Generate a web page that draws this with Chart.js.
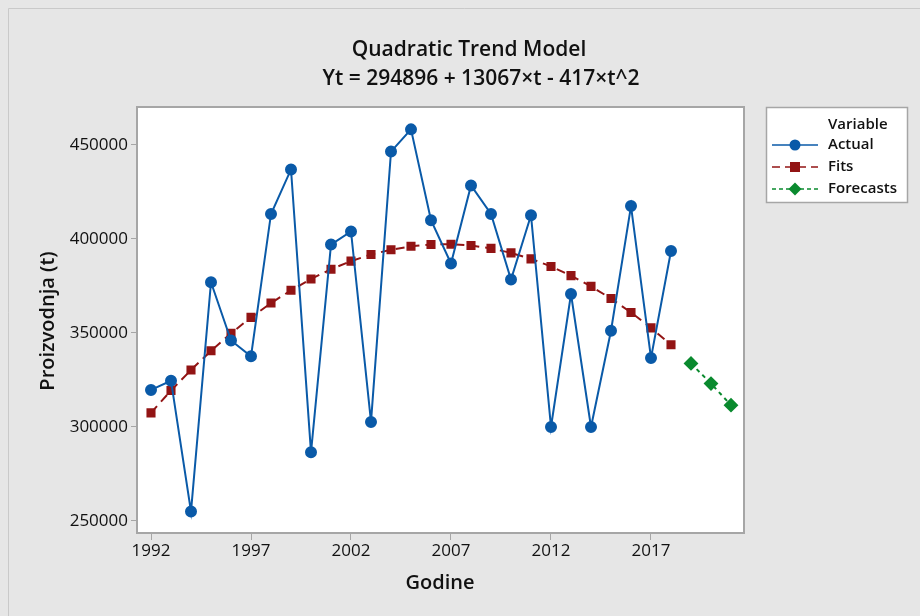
<!DOCTYPE html>
<html>
<head>
<meta charset="utf-8">
<script src="https://cdn.jsdelivr.net/npm/chart.js@4"></script>
<style>
  html, body { margin: 0; padding: 0; background: #e6e6e6; }
  #wrap { width: 920px; height: 616px; position: relative; }
</style>
</head>
<body>
<div id="wrap"><canvas id="chart" width="920" height="616"></canvas></div>
<script>
// data
const years = [1992, 1993, 1994, 1995, 1996, 1997, 1998, 1999, 2000, 2001, 2002, 2003, 2004, 2005,
  2006, 2007, 2008, 2009, 2010, 2011, 2012, 2013, 2014, 2015, 2016, 2017, 2018];
const actual = [319700, 324600, 255000, 377000, 346000, 337600, 413300, 437000, 286500, 397000,
  404000, 302700, 446500, 458300, 410000, 387000, 428500, 413300, 378400, 412600,
  300000, 370700, 300000, 351200, 417500, 336700, 393600];
const fits = [307500, 319400, 330300, 340500, 349800, 358300, 365900, 372700, 378700, 383900,
  388200, 391700, 394300, 396100, 397100, 397200, 396500, 395000, 392600, 389400,
  385400, 380500, 374800, 368300, 360900, 352700, 343700];
const forecastYears = [2019, 2020, 2021];
const forecasts = [333800, 323100, 311600];
const xTicks = [1992, 1997, 2002, 2007, 2012, 2017];
const yTicks = [250000, 300000, 350000, 400000, 450000];

const FONT = "'Open Sans', 'Noto Sans', sans-serif";
const BLUE = "#0a5aa8";
const RED = "#921414";
const GREEN = "#0a8a2e";

const toPts = (xs, ys) => xs.map((x, i) => ({ x: x, y: ys[i] }));

// titles, frame and legend
const decor = {
  id: "decor",
  beforeDraw(chart) {
    const c = chart.ctx;
    c.save();
    c.fillStyle = "#e6e6e6";
    c.fillRect(0, 0, chart.width, chart.height);
    c.strokeStyle = "#c9c9c9";
    c.lineWidth = 1;
    c.beginPath();
    c.moveTo(8.5, chart.height); c.lineTo(8.5, 8.5); c.lineTo(chart.width, 8.5);
    c.stroke();
    const a = chart.chartArea;
    c.fillStyle = "#ffffff";
    c.fillRect(a.left, a.top, a.right - a.left, a.bottom - a.top);
    c.restore();
  },
  afterDraw(chart) {
    const c = chart.ctx;
    const a = chart.chartArea;
    c.save();
    c.strokeStyle = "#a6a6a6";
    c.lineWidth = 2;
    c.strokeRect(a.left, a.top, a.right - a.left, a.bottom - a.top);

    c.fillStyle = "#111";
    c.textAlign = "center";
    c.textBaseline = "alphabetic";
    c.font = "600 21px " + FONT;
    c.fillText("Quadratic Trend Model", 469, 56);
    c.fillText("Yt = 294896 + 13067×t - 417×t^2", 481, 85);

    c.font = "600 20px " + FONT;
    c.fillText("Godine", 440, 589);
    c.save();
    c.translate(54, 321);
    c.rotate(-Math.PI / 2);
    c.fillText("Proizvodnja (t)", 0, 0);
    c.restore();

    // legend
    const lx = 766, ly = 107, lw = 141, lh = 95;
    c.fillStyle = "#fff";
    c.fillRect(lx, ly, lw, lh);
    c.strokeStyle = "#a6a6a6";
    c.lineWidth = 1.5;
    c.strokeRect(lx + 0.5, ly + 0.5, lw, lh);
    c.fillStyle = "#111";
    c.textAlign = "left";
    c.textBaseline = "middle";
    c.font = "600 15px " + FONT;
    c.fillText("Variable", 828, 125);
    const rows = [
      { label: "Actual", color: BLUE, dash: [], y: 145, shape: "circle" },
      { label: "Fits", color: RED, dash: [8, 5], y: 167, shape: "rect" },
      { label: "Forecasts", color: GREEN, dash: [4, 3], y: 189, shape: "diamond" }
    ];
    rows.forEach(r => {
      c.strokeStyle = r.color;
      c.lineWidth = 1.6;
      c.setLineDash(r.dash);
      c.beginPath();
      c.moveTo(772, r.y); c.lineTo(818, r.y);
      c.stroke();
      c.setLineDash([]);
      c.fillStyle = r.color;
      c.beginPath();
      if (r.shape === "circle") c.arc(795, r.y, 5.5, 0, Math.PI * 2);
      else if (r.shape === "rect") c.rect(790, r.y - 5, 10, 10);
      else { c.moveTo(795, r.y - 6.5); c.lineTo(801.5, r.y); c.lineTo(795, r.y + 6.5); c.lineTo(788.5, r.y); c.closePath(); }
      c.fill();
      c.fillStyle = "#111";
      c.fillText(r.label, 828, r.y);
    });
    c.restore();
  }
};

new Chart(document.getElementById("chart"), {
  type: "line",
  data: {
    datasets: [
      {
        label: "Actual",
        data: toPts(years, actual),
        borderColor: BLUE,
        backgroundColor: BLUE,
        borderWidth: 2,
        pointRadius: 5,
        pointStyle: "circle",
        tension: 0
      },
      {
        label: "Fits",
        data: toPts(years, fits),
        borderColor: RED,
        backgroundColor: RED,
        borderWidth: 2,
        borderDash: [9, 6],
        pointRadius: 5,
        pointStyle: "rect",
        tension: 0
      },
      {
        label: "Forecasts",
        data: toPts(forecastYears, forecasts),
        borderColor: GREEN,
        backgroundColor: GREEN,
        borderWidth: 2,
        borderDash: [4, 4],
        pointRadius: 6,
        pointStyle: "rectRot",
        tension: 0
      }
    ]
  },
  options: {
    responsive: false,
    animation: false,
    layout: { padding: { left: 0, top: 107, right: 176, bottom: 0 } },
    plugins: { legend: { display: false }, tooltip: { enabled: false } },
    scales: {
      x: {
        type: "linear",
        min: 1991.3,
        max: 2021.65,
        afterBuildTicks: s => { s.ticks = xTicks.map(v => ({ value: v })); },
        afterFit: s => { s.height = 83; },
        grid: { drawOnChartArea: false, drawTicks: true, tickLength: 7, color: "#a6a6a6", lineWidth: 1 },
        border: { display: false },
        ticks: { color: "#111", font: { family: FONT, size: 17 }, padding: 1, maxRotation: 0, callback: v => String(v) }
      },
      y: {
        min: 243600,
        max: 470200,
        afterBuildTicks: s => { s.ticks = yTicks.map(v => ({ value: v })); },
        afterFit: s => { s.width = 137; },
        grid: { drawOnChartArea: false, drawTicks: true, tickLength: 6, color: "#a6a6a6", lineWidth: 1 },
        border: { display: false },
        ticks: { color: "#111", font: { family: FONT, size: 17 }, padding: 3, callback: v => String(v) }
      }
    }
  },
  plugins: [decor]
});
</script>
</body>
</html>
